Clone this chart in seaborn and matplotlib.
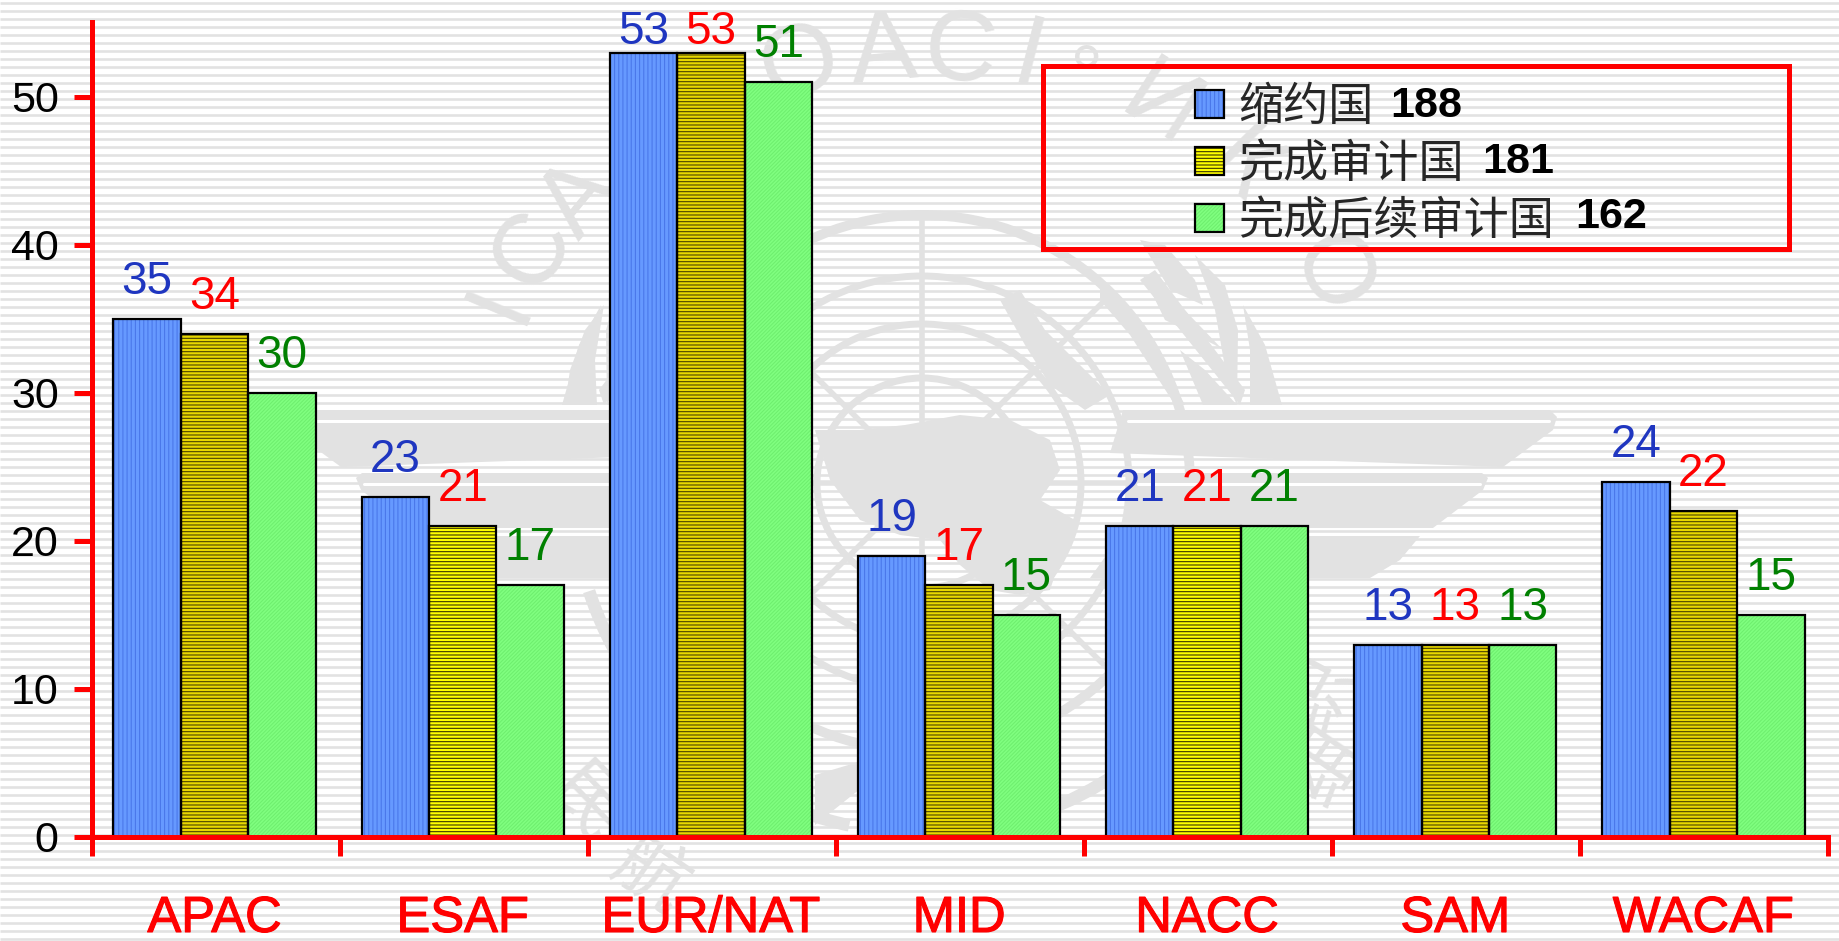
import numpy as np
import pandas as pd
import matplotlib
matplotlib.use("Agg")
import matplotlib.pyplot as plt
import matplotlib.patheffects as pe
from matplotlib.legend_handler import HandlerTuple
from matplotlib.patches import Arc, Circle, Patch, Polygon, Rectangle
import seaborn as sns

# ---- data ----
regions = ["APAC", "ESAF", "EUR/NAT", "MID", "NACC", "SAM", "WACAF"]
contracting = [35, 23, 53, 19, 21, 13, 24]
audited = [34, 21, 53, 17, 21, 13, 22]
followup = [30, 17, 51, 15, 21, 13, 15]
series_names = ["缩约国", "完成审计国", "完成后续审计国"]
series_totals = ["188", "181", "162"]
y_ticks = [0, 10, 20, 30, 40, 50]

W, H = 1839, 941
LEFT, RIGHT, BOTTOM, TOP = 92, 1828, 837, 22
GRAY = "#e2e2e2"
SANS = "Liberation Sans"
CJK = "Noto Sans CJK SC"

bar_fill = ["#6699ff", "#ffff00", "#80ff80"]
hatch_color = ["#4a78ea", "#3a3500", "#6fef6f"]
hatches = ["||||", "-----", "/////////"]
label_color = ["#1f36c0", "#ff0000", "#008000"]
dark_yellow = ["APAC", "EUR/NAT", "MID", "SAM", "WACAF"]

sns.set_style("white")
plt.rcParams["font.family"] = SANS
plt.rcParams["hatch.linewidth"] = 0.8

df = pd.DataFrame({"region": regions, series_names[0]: contracting,
                   series_names[1]: audited, series_names[2]: followup})
df = df.melt(id_vars="region", var_name="group", value_name="count")

fig = plt.figure(figsize=(W / 100, H / 100), dpi=100, facecolor="white")

# ---- background: stripes and the watermark, in pixel coordinates ----
bg = fig.add_axes([0, 0, 1, 1], zorder=0)
bg.set_xlim(0, W)
bg.set_ylim(H, 0)
bg.axis("off")
bg.hlines(np.arange(2.5, H, 8), 0, W, color=GRAY, lw=1.9)

CX, CY = 922, 483
for r, lw in [(268, 7), (207, 5), (159, 5), (105, 5)]:
    bg.add_patch(Circle((CX, CY), r, fill=False, ec=GRAY, lw=lw))
for a in np.deg2rad([0, 45, 90, 135]):
    dx, dy = 268 * np.cos(a), 268 * np.sin(a)
    bg.plot([CX - dx, CX + dx], [CY - dy, CY + dy], color=GRAY, lw=4)

land = [
    [(815, 430), (860, 430), (905, 425), (960, 415), (1010, 420), (1050, 440), (1060, 470),
     (1040, 500), (1075, 520), (1060, 560), (1050, 590), (1020, 595), (990, 590), (960, 565),
     (940, 540), (900, 535), (860, 520), (830, 480)],
    [(1000, 300), (1020, 290), (1045, 330), (1085, 370), (1110, 395), (1085, 410), (1050, 385),
     (1025, 345)],
    [(815, 775), (865, 760), (865, 785), (815, 825)],
]
for pts in land:
    bg.add_patch(Polygon(pts, fc=GRAY, ec="none"))

wing_bands = [
    [(1123, 410), (1550, 410), (1557, 417), (1553, 430), (1503, 467), (1110, 453)],
    [(1133, 473), (1482, 473), (1488, 478), (1483, 490), (1433, 528), (1125, 528)],
    [(1120, 536), (1420, 536), (1400, 560), (1370, 578), (1090, 578)],
]
for pts in wing_bands:
    bg.add_patch(Polygon(pts, fc=GRAY, ec="none"))
    bg.add_patch(Polygon([(2 * CX - x, y) for x, y in pts], fc=GRAY, ec="none"))
    # thin pale line along the top of each feather
    top = pts[0][1] + 11
    if top < 500:
        bg.plot([pts[0][0] + 5, pts[2][0] - 8], [top, top], color="white", lw=2.2)
        bg.plot([2 * CX - pts[0][0] - 5, 2 * CX - pts[2][0] + 8], [top, top], color="white", lw=2.2)

# branches
for theta in [(102, 162), (18, 78)]:
    bg.add_patch(Arc((CX, CY), 700, 700, theta1=theta[0], theta2=theta[1], ec=GRAY, lw=9))
leaves = [
    [(1143, 275), (1175, 300), (1223, 350), (1215, 345), (1165, 320)],
    [(1140, 240), (1165, 245), (1195, 280), (1203, 305), (1170, 290)],
    [(1195, 255), (1225, 285), (1238, 330), (1237, 405), (1228, 385), (1215, 310)],
    [(1243, 305), (1265, 345), (1282, 405), (1250, 405), (1250, 350)],
    [(1180, 350), (1205, 370), (1237, 405), (1203, 405)],
    [(1100, 280), (1140, 320), (1185, 405), (1175, 405), (1130, 335), (1100, 300)],
    [(1240, 405), (1140, 280), (1155, 270), (1245, 390)],
]
for pts in leaves:
    bg.add_patch(Polygon(pts, fc=GRAY, ec="none"))
    bg.add_patch(Polygon([(2 * CX - x, y) for x, y in pts], fc=GRAY, ec="none"))
bg.add_patch(Polygon([(604, 305), (585, 330), (570, 370), (565, 405), (597, 405), (595, 360)], fc=GRAY, ec="none"))

# ring lettering, each glyph turned to follow the ring
ring_letters = [("I", 500, 303), ("C", 533, 250), ("A", 580, 200), ("O", 800, 66), ("A", 884, 54),
                ("C", 960, 54), ("I", 1029, 60), ("И", 1160, 108), ("К", 1240, 170), ("О", 1329, 275)]
for ch, x, y in ring_letters:
    rot = -np.degrees(np.arctan2(x - CX, CY - y))
    bg.text(x, y, ch, color=GRAY, fontsize=72, family=SANS,
            ha="center", va="center", rotation=rot, rotation_mode="anchor")
bg.text(1087, 81, "°", color=GRAY, fontsize=60, family=SANS, ha="center", va="center")
for ch, x, y in [("民", 586, 806), ("航", 650, 876), ("组", 1328, 767), ("织", 1320, 695)]:
    rot = -np.degrees(np.arctan2(x - CX, CY - y)) + 180
    bg.text(x, y, ch, color=GRAY, fontsize=54, family=CJK, ha="center", va="center", rotation=rot)

# ---- bars ----
ax = fig.add_axes([LEFT / W, 1 - BOTTOM / H, (RIGHT - LEFT) / W, (BOTTOM - TOP) / H], zorder=1)
ax.patch.set_alpha(0)
sns.barplot(data=df, x="region", y="count", hue="group", order=regions, hue_order=series_names,
            palette=dict(zip(series_names, bar_fill)), saturation=1, width=0.815, gap=0,
            linewidth=0.6, legend=False, ax=ax)

for i, cont in enumerate(ax.containers):
    for j, bar in enumerate(cont.patches):
        # this matplotlib takes the hatch colour from the edge, so the black outline is a second patch
        bar.set_hatch(hatches[i])
        bar.set_edgecolor(hatch_color[i])
        # the yellow stripes look heavier in some columns
        if i == 1 and regions[j] in dark_yellow:
            bar.set_edgecolor("#4a4300")
            bar.set_facecolor("#e8d800")
        ax.add_patch(Rectangle(bar.get_xy(), bar.get_width(), bar.get_height(), fill=False,
                               ec="black", lw=1.6, zorder=bar.get_zorder() + 0.1))
        value = int(bar.get_height())
        pad = 6 if value == 53 else 18
        ax.annotate(str(value), (bar.get_x() + bar.get_width() / 2, value), xytext=(0, pad),
                    textcoords="offset points", ha="center", va="baseline",
                    color=label_color[i], fontsize=33, annotation_clip=False)

# ---- axes ----
x0, x1 = -0.494, 6.502
ax.set_xlim(x0, x1)
ax.set_ylim(0, (BOTTOM - TOP) / 14.8)
ax.set_xlabel("")
ax.set_ylabel("")
ax.set_yticks(y_ticks)
ax.set_xticks(np.linspace(x0, x1, 8))
ax.set_xticklabels([])
ax.set_xticks(np.arange(7), labels=regions, minor=True)
ax.tick_params(axis="y", length=13, width=3.6, color="red", pad=11, labelsize=31, left=True, labelcolor="black")
ax.tick_params(axis="x", which="major", length=13.5, width=3.6, color="red", bottom=True)
ax.tick_params(axis="x", which="minor", length=0, pad=41, labelsize=36.5, labelcolor="red", bottom=False)
for lab in ax.get_xticklabels(minor=True):
    lab.set_path_effects([pe.withStroke(linewidth=0.8, foreground="red")])
for side in ("top", "right"):
    ax.spines[side].set_visible(False)
for side in ("left", "bottom"):
    ax.spines[side].set_color("red")
    ax.spines[side].set_linewidth(3.6)

# ---- legend, frame and bold totals placed in pixels ----
over = fig.add_axes([0, 0, 1, 1], zorder=2)
over.set_xlim(0, W)
over.set_ylim(H, 0)
over.axis("off")
over.add_patch(Rectangle((1043, 66), 746, 183, fill=False, ec="red", lw=3.6))
handles = [(Patch(facecolor=f, edgecolor=c, hatch=h, linewidth=0.6),
            Patch(fill=False, edgecolor="black", linewidth=1.6))
           for f, h, c in zip(bar_fill, hatches, hatch_color)]
over.legend(handles=handles, labels=series_names, loc="upper left", bbox_to_anchor=(1195 / W, 1 - 84 / H),
            bbox_transform=fig.transFigure, frameon=False, borderpad=0, borderaxespad=0,
            handlelength=0.64, handleheight=0.58, handletextpad=0.32, labelspacing=0.24,
            handler_map={tuple: HandlerTuple(ndivide=1, pad=0)},
            prop={"family": CJK, "size": 32.5})
for total, x, y in zip(series_totals, [1390, 1482, 1575], [106, 162, 217]):
    over.text(x, y, total, fontsize=31, fontweight="bold", family=SANS, color="black",
              ha="left", va="center")

fig.savefig("out.png", dpi=100)
